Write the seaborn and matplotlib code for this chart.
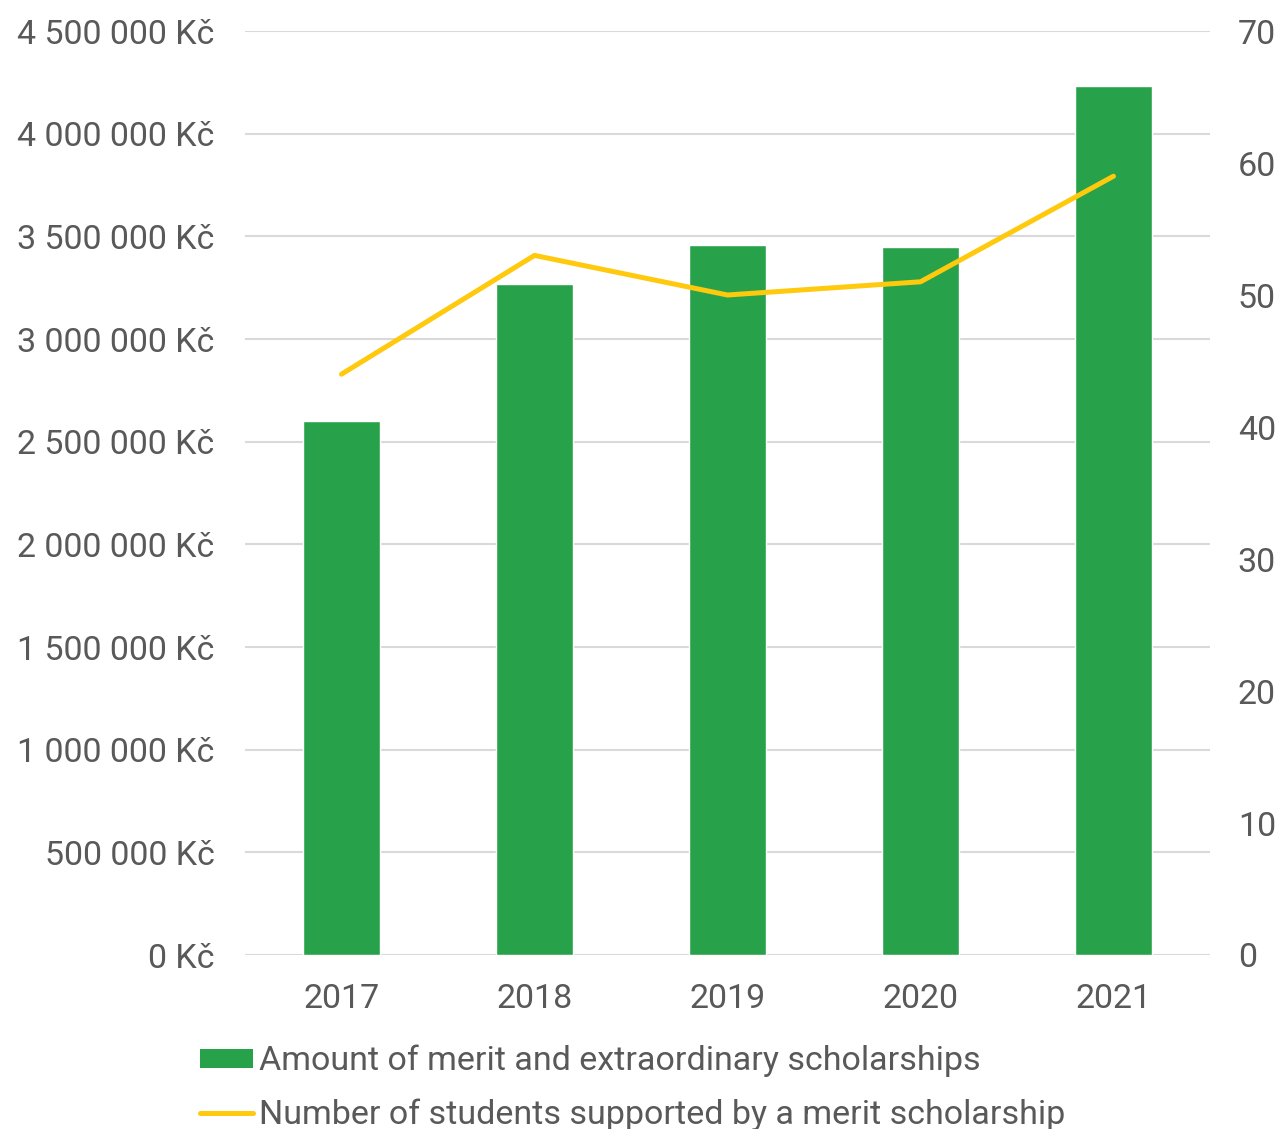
import matplotlib
matplotlib.use("Agg")
import matplotlib.pyplot as plt
from matplotlib.ticker import FuncFormatter, MultipleLocator
from matplotlib.patches import Patch
from matplotlib.lines import Line2D
import numpy as np
import pandas as pd
import seaborn as sns

# data
years = ["2017", "2018", "2019", "2020", "2021"]
amounts = [2600000, 3270000, 3460000, 3450000, 4230000]
students = [44, 53, 50, 51, 59]

bar_label = "Amount of merit and extraordinary scholarships"
line_label = "Number of students supported by a merit scholarship"

GREEN = "#28a24a"
YELLOW = "#ffc90e"
TEXT = "#595959"
GRID = "#d9d9d9"

sns.set_theme(style="white")
plt.rcParams["font.family"] = ["Roboto", "DejaVu Sans"]

df = pd.DataFrame({"year": years, "amount": amounts, "students": students})

fig = plt.figure(figsize=(12.8, 11.29), dpi=100)
ax = fig.add_axes([245 / 1280, 1 - 955 / 1129, 965 / 1280, 924 / 1129])

sns.barplot(data=df, x="year", y="amount", color=GREEN, width=0.4,
            saturation=1, ax=ax, zorder=2)
ax.set_ylim(0, 4500000)
ax.yaxis.set_major_locator(MultipleLocator(500000))
ax.yaxis.set_major_formatter(FuncFormatter(lambda v, p: f"{int(v):,}".replace(",", " ") + " Kč"))
ax.grid(axis="y", color=GRID, lw=1.5, zorder=0)
ax.set_axisbelow(True)
ax.set_xlim(-0.5, len(years) - 0.5)

ax2 = ax.twinx()
sns.lineplot(x=np.arange(len(years)), y=df["students"], color=YELLOW, lw=3.6,
             ax=ax2, solid_capstyle="round")
ax2.set_ylim(0, 70)
ax2.yaxis.set_major_locator(MultipleLocator(10))

for a in (ax, ax2):
    for s in a.spines.values():
        s.set_visible(False)
    a.set_xlabel("")
    a.set_ylabel("")
    a.tick_params(length=0, labelsize=24.5, labelcolor=TEXT)
ax.tick_params(axis="y", pad=22)
ax.tick_params(axis="x", pad=20)
ax2.tick_params(axis="y", pad=20)

handles = [Patch(facecolor=GREEN, edgecolor="none", label=bar_label),
           Line2D([0], [0], color=YELLOW, lw=3.6, solid_capstyle="round", label=line_label)]
fig.legend(handles=handles, loc="upper left", bbox_to_anchor=(200 / 1280, 1 - 1045 / 1129),
           frameon=False, fontsize=24.5, labelcolor=TEXT, handlelength=1.56,
           handleheight=0.5, handletextpad=0.18, labelspacing=0.62,
           borderaxespad=0, borderpad=0)

fig.savefig("out.png", dpi=100)
